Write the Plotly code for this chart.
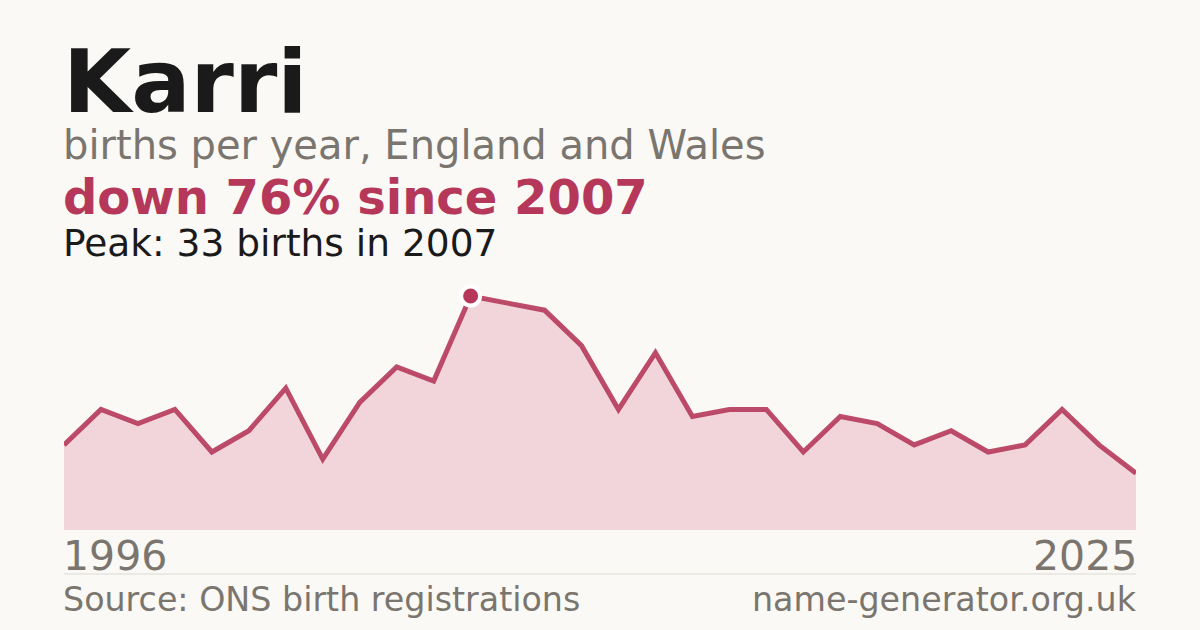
import plotly.graph_objects as go

# births per year for "Karri", England and Wales
years = list(range(1996, 2026))
births = [12, 17, 15, 17, 11, 14, 20, 10, 18, 23, 21, 33, 32, 31, 26, 17,
          25, 16, 17, 17, 11, 16, 15, 12, 14, 11, 12, 17, 12, 8]

peak_year = 2007
peak_value = 33

W, H = 1200, 630
BG = '#faf9f5'
RED = '#b5385a'
GREY = '#7a756e'
FONT = 'DejaVu Sans'

# chart box in pixels
x0, x1 = 64, 1136
y_top, y_bot = 272.6, 530


def py(p):
    # pixel row -> paper y
    return 1 - p / H


fig = go.Figure()
fig.add_trace(go.Scatter(
    x=years, y=births,
    mode='lines',
    line=dict(color='rgba(181,56,90,0.9)', width=5),
    fill='tozeroy',
    fillcolor='#f2d5db',
    hoverinfo='skip',
))
fig.add_trace(go.Scatter(
    x=[peak_year], y=[peak_value],
    mode='markers',
    marker=dict(color=RED, size=19, line=dict(color='white', width=4)),
    hoverinfo='skip',
))

texts = [
    # text, x, pixel centre, size, colour, bold, anchor
    ('Karri', x0, 82, 88, '#1a1a1a', True, 'left'),
    ('births per year, England and Wales', x0, 145, 40, GREY, False, 'left'),
    ('down 76% since 2007', x0, 197, 48, RED, True, 'left'),
    ('Peak: 33 births in 2007', x0, 243, 37.5, '#1a1a1a', False, 'left'),
    (str(years[0]), x0, 556, 41, GREY, False, 'left'),
    (str(years[-1]), x1, 556, 41, GREY, False, 'right'),
    ('Source: ONS birth registrations', x0, 599, 33.3, GREY, False, 'left'),
    ('name-generator.org.uk', x1, 599, 33.3, GREY, False, 'right'),
]
for txt, x, yc, size, color, bold, anchor in texts:
    fig.add_annotation(
        text=f'<b>{txt}</b>' if bold else txt,
        xref='paper', yref='paper',
        x=(x - 3 if anchor == 'left' else x + 3) / W, y=py(yc),
        xanchor=anchor, yanchor='middle',
        showarrow=False,
        font=dict(family=FONT, size=size, color=color),
    )

fig.add_shape(type='line', xref='paper', yref='paper',
              x0=x0 / W, x1=x1 / W, y0=py(574), y1=py(574),
              line=dict(color='#dcd9d2', width=1))

fig.update_layout(
    width=W, height=H,
    margin=dict(l=0, r=0, t=0, b=0),
    paper_bgcolor=BG, plot_bgcolor=BG,
    showlegend=False,
    xaxis=dict(domain=[x0 / W, x1 / W], range=[years[0], years[-1]],
               visible=False, fixedrange=True),
    yaxis=dict(domain=[py(y_bot), py(y_top)], range=[0, peak_value * 1.1],
               visible=False, fixedrange=True),
)

fig.write_html('out.html', config={'displayModeBar': False},
               post_script="document.body.style.margin='0';"
                           "document.body.style.background='" + BG + "';")
